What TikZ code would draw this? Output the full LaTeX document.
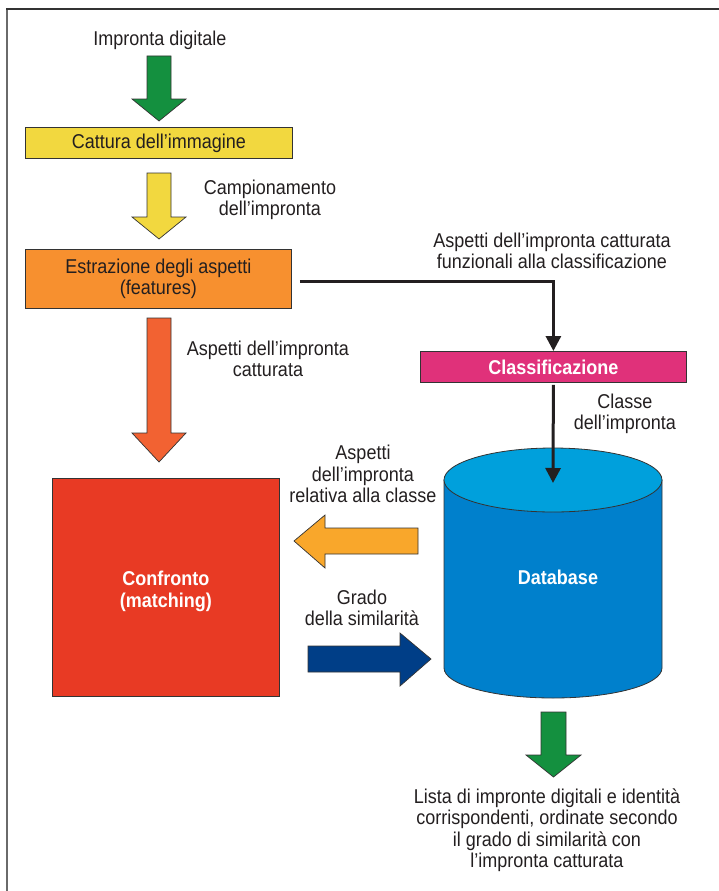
\documentclass[tikz,border=0pt]{standalone}
\usepackage{fontspec}
\setmainfont{Liberation Sans}[FakeStretch=0.9]
\usetikzlibrary{arrows.meta}

\definecolor{txt}{HTML}{231F20}
\definecolor{frameA}{HTML}{333333}
\definecolor{frameB}{HTML}{6A6A6A}
\definecolor{cgreen}{HTML}{14903F}
\definecolor{cyellow}{HTML}{F2D83F}
\definecolor{corange}{HTML}{F7902F}
\definecolor{credorange}{HTML}{F26232}
\definecolor{cred}{HTML}{E83A24}
\definecolor{cmagenta}{HTML}{E0317A}
\definecolor{clightorange}{HTML}{F9A72B}
\definecolor{cnavy}{HTML}{003E87}
\definecolor{dbbody}{HTML}{0080CC}
\definecolor{dbtop}{HTML}{00A0DC}

\tikzset{
  x=1pt, y=-1pt,
  lbl/.style={text=txt, font=\fontsize{20pt}{21.5pt}\selectfont, align=center, inner sep=0pt},
  whitelbl/.style={text=white, font=\fontsize{20pt}{21.5pt}\selectfont\bfseries, align=center, inner sep=0pt},
  procbox/.style={draw=frameA, line width=0.8pt, inner sep=0pt, anchor=north west},
  blockarrow/.style={draw=frameA, line width=0.7pt, line join=miter},
  conn/.style={draw=txt, line width=3pt, -{Triangle[width=15pt,length=15pt]}},
}

\begin{document}
\begin{tikzpicture}
\useasboundingbox (0,0) rectangle (719,891);

% outer frame (open at the right and bottom)
\draw[frameB, line width=2pt] (7,9.5) -- (7,891);
\draw[frameA, line width=2pt] (6,9.5) -- (719,9.5);

% ---- process boxes ----
\node[procbox, fill=cyellow, minimum width=267pt, minimum height=31pt] (cattura) at (25,127) {};
\node[lbl] at (cattura.center) {Cattura dell’immagine};

\node[procbox, fill=corange, minimum width=266pt, minimum height=59pt] (estr) at (25,249) {};
\node[lbl] at (estr.center) {Estrazione degli aspetti\\(features)};

\node[procbox, fill=cmagenta, minimum width=266pt, minimum height=31pt] (classif) at (420,351) {};
\node[whitelbl] at (classif.center) {Classificazione};

\node[procbox, fill=cred, minimum width=227pt, minimum height=218pt] (confr) at (52,478) {};
\node[whitelbl] at ([yshift=-4pt]confr.center) {Confronto\\(matching)};

% ---- database cylinder ----
\path[draw=frameA, line width=0.8pt, fill=dbbody]
  (444,480) -- (444,668) arc[start angle=180, end angle=360, x radius=109pt, y radius=30pt]
  -- (662,480) -- cycle;
\draw[frameA, line width=0.8pt, fill=dbtop] (553,480) ellipse [x radius=109pt, y radius=32pt];
\node[whitelbl] (db) at (558,577) {Database};
\coordinate (dbin) at (553,483);

% ---- block arrows ----
% downward arrows
\draw[blockarrow, fill=cgreen]
  (147,56) -- (171,56) -- (171,99) -- (186,99) -- (159,121) -- (132,99) -- (147,99) -- cycle;
\draw[blockarrow, fill=cyellow]
  (147,173) -- (171,173) -- (171,217) -- (186,217) -- (159,239) -- (132,217) -- (147,217) -- cycle;
\draw[blockarrow, fill=credorange]
  (147,318) -- (171,318) -- (171,433) -- (186,433) -- (159,462) -- (132,433) -- (147,433) -- cycle;
\draw[blockarrow, fill=cgreen]
  (541,712) -- (566,712) -- (566,755) -- (581,755) -- (553.5,777) -- (526,755) -- (541,755) -- cycle;
% leftward, towards the matching block
\draw[blockarrow, fill=clightorange]
  (418,528) -- (418,554) -- (325,554) -- (325,568) -- (294,541) -- (325,515) -- (325,528) -- cycle;
% rightward, towards the database
\draw[blockarrow, fill=cnavy]
  (308,646) -- (400,646) -- (400,633) -- (431,659) -- (400,686) -- (400,672) -- (308,672) -- cycle;

% ---- connectors ----
\draw[conn] ([xshift=8pt,yshift=-3pt]estr.east) -| (classif.north);
\draw[conn] ([yshift=-2pt]classif.south) -- (dbin);

% ---- labels ----
\node[lbl] (in) at (160,40) {Impronta digitale};
\node[lbl] (lcamp) at (270,200) {Campionamento\\dell’impronta};
\node[lbl] (lfunz) at (552,251) {Aspetti dell’impronta catturata\\funzionali alla classificazione};
\node[lbl] (lasp) at (268,359) {Aspetti dell’impronta\\catturata};
\node[lbl] (lclasse) at (625,414) {Classe\\dell’impronta};
\node[lbl] (lrel) at (363,474) {Aspetti\\dell’impronta\\relativa alla classe};
\node[lbl] (lgrado) at (362,608) {Grado\\della similarità};
\node[lbl] (out) at (547,830) {Lista di impronte digitali e identità\\corrispondenti, ordinate secondo\\il grado di similarità con\\l’impronta catturata};
\end{tikzpicture}
\end{document}
